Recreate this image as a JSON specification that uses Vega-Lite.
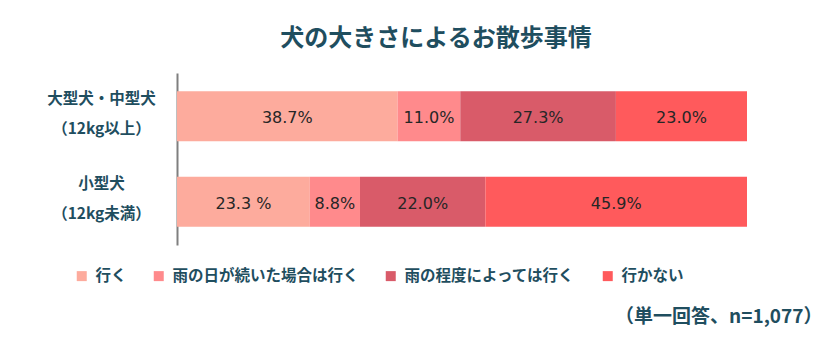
{
  "$schema": "https://vega.github.io/schema/vega-lite/v6.json",
  "width": 570,
  "height": 172,
  "autosize": "none",
  "padding": {"left": 177, "top": 73, "right": 88, "bottom": 106},
  "background": "white",
  "config": {"view": {"stroke": null}},
  "title": {
    "text": "犬の大きさによるお散歩事情",
    "anchor": "middle",
    "frame": "group",
    "dx": -26,
    "offset": 22,
    "font": "Noto Sans CJK JP",
    "fontSize": 24,
    "fontWeight": "bold",
    "color": "#1F4E5F"
  },
  "data": {
    "values": [
      {"group": "大型犬・中型犬|（12kg以上）", "answer": "行く", "ord": 1, "value": 38.7, "text": "38.7%"},
      {"group": "大型犬・中型犬|（12kg以上）", "answer": "雨の日が続いた場合は行く", "ord": 2, "value": 11.0, "text": "11.0%"},
      {"group": "大型犬・中型犬|（12kg以上）", "answer": "雨の程度によっては行く", "ord": 3, "value": 27.3, "text": "27.3%"},
      {"group": "大型犬・中型犬|（12kg以上）", "answer": "行かない", "ord": 4, "value": 23.0, "text": "23.0%"},
      {"group": "小型犬|（12kg未満）", "answer": "行く", "ord": 1, "value": 23.3, "text": "23.3 %"},
      {"group": "小型犬|（12kg未満）", "answer": "雨の日が続いた場合は行く", "ord": 2, "value": 8.8, "text": "8.8%"},
      {"group": "小型犬|（12kg未満）", "answer": "雨の程度によっては行く", "ord": 3, "value": 22.0, "text": "22.0%"},
      {"group": "小型犬|（12kg未満）", "answer": "行かない", "ord": 4, "value": 45.9, "text": "45.9%"}
    ]
  },
  "encoding": {
    "y": {
      "field": "group",
      "type": "nominal",
      "sort": null,
      "scale": {"paddingInner": 0.415, "paddingOuter": 0.213},
      "axis": {
        "title": null,
        "ticks": false,
        "domain": true,
        "domainColor": "#7f7f7f",
        "domainWidth": 2,
        "labelExpr": "split(datum.value, '|')",
        "labelAlign": "center",
        "labelPadding": 76,
        "labelLineHeight": 30,
        "labelOffset": -17.5,
        "labelFont": "Noto Sans CJK JP",
        "labelFontSize": 15.5,
        "labelFontWeight": "bold",
        "labelColor": "#1F4E5F",
        "labelBaseline": "middle",
        "labelLimit": 0
      }
    },
    "x": {
      "field": "value",
      "type": "quantitative",
      "stack": "zero",
      "scale": {"domain": [0, 100], "nice": false},
      "axis": {
        "grid": false,
        "labels": false,
        "ticks": false,
        "domain": false,
        "title": "（単一回答、n=1,077）",
        "titleAnchor": "end",
        "titleAlign": "right",
        "titleBaseline": "middle",
        "titleX": 645,
        "titleY": 71,
        "titleFont": "Noto Sans CJK JP",
        "titleFontSize": 19,
        "titleFontWeight": "bold",
        "titleColor": "#1F4E5F"
      }
    },
    "order": {"field": "ord", "type": "quantitative"}
  },
  "layer": [
    {
      "mark": {"type": "bar", "strokeWidth": 0},
      "encoding": {
        "color": {
          "field": "answer",
          "type": "nominal",
          "scale": {
            "domain": ["行く", "雨の日が続いた場合は行く", "雨の程度によっては行く", "行かない"],
            "range": ["#FDAB9D", "#FF8A8C", "#D95B69", "#FF5A5C"]
          },
          "legend": {
            "title": null,
            "orient": "none",
            "direction": "horizontal",
            "legendX": -103,
            "legendY": 195,
            "symbolType": "square",
            "symbolSize": 100,
            "symbolStrokeWidth": 0,
            "symbolOpacity": 1,
            "labelFont": "Noto Sans CJK JP",
            "labelFontSize": 15.5,
            "labelFontWeight": "bold",
            "labelColor": "#1F4E5F",
            "labelOffset": 6,
            "labelLimit": 0,
            "columnPadding": 24
          }
        }
      }
    },
    {
      "mark": {"type": "text", "font": "DejaVu Sans", "fontSize": 16, "color": "#262626", "dy": 2},
      "encoding": {
        "x": {"field": "value", "type": "quantitative", "stack": "zero", "bandPosition": 0.5},
        "text": {"field": "text"}
      }
    }
  ]
}
